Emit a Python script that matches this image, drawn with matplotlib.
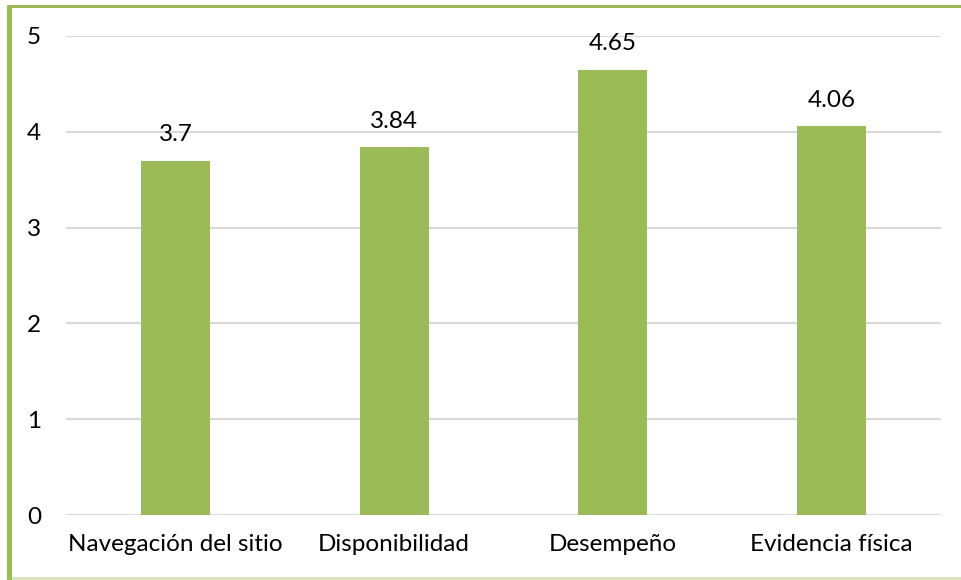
import matplotlib.pyplot as plt
from matplotlib.patches import Rectangle

categories = ["Navegación del sitio", "Disponibilidad", "Desempeño", "Evidencia física"]
values = [3.7, 3.84, 4.65, 4.06]
yticks = [0, 1, 2, 3, 4, 5]

bar_color = "#9BBB59"
plt.rcParams['font.family'] = ['Lato', 'DejaVu Sans']

fig = plt.figure(figsize=(9.61, 5.8), dpi=100)
ax = fig.add_axes([66 / 961, 1 - 515 / 580, 875 / 961, 479 / 580])

x = range(len(categories))
bars = ax.bar(x, values, width=0.315, color=bar_color, zorder=2)
for b, v in zip(bars, values):
    ax.annotate(f"{v:g}", (b.get_x() + b.get_width() / 2, v),
                xytext=(0, 11), textcoords="offset points",
                ha="center", va="bottom", fontsize=17.5, color="black")

ax.set_xlim(-0.5, len(categories) - 0.5)
ax.set_ylim(0, 5)
ax.set_yticks(yticks)
ax.set_xticks(list(x))
ax.set_xticklabels(categories)
ax.tick_params(axis="both", length=0, labelsize=17.5, colors="black")
ax.tick_params(axis="y", pad=18)
ax.tick_params(axis="x", pad=14)
ax.yaxis.grid(True, color="#d9d9d9", linewidth=1.5, zorder=0)
for s in ax.spines.values():
    s.set_visible(False)

# frame lines: thick left and top, faint bottom
frame_w = 954 / 961
fig.patches.append(Rectangle((7 / 961, 0), 5 / 961, 1 - 5 / 580, transform=fig.transFigure,
                             facecolor=bar_color, edgecolor="none", zorder=5))
fig.patches.append(Rectangle((7 / 961, 1 - 8 / 580), frame_w, 3 / 580, transform=fig.transFigure,
                             facecolor=bar_color, edgecolor="none", zorder=5))
fig.patches.append(Rectangle((7 / 961, 0), frame_w, 3 / 580, transform=fig.transFigure,
                             facecolor="#d7e4bd", edgecolor="none", zorder=4))

fig.savefig("out.png", dpi=100)
